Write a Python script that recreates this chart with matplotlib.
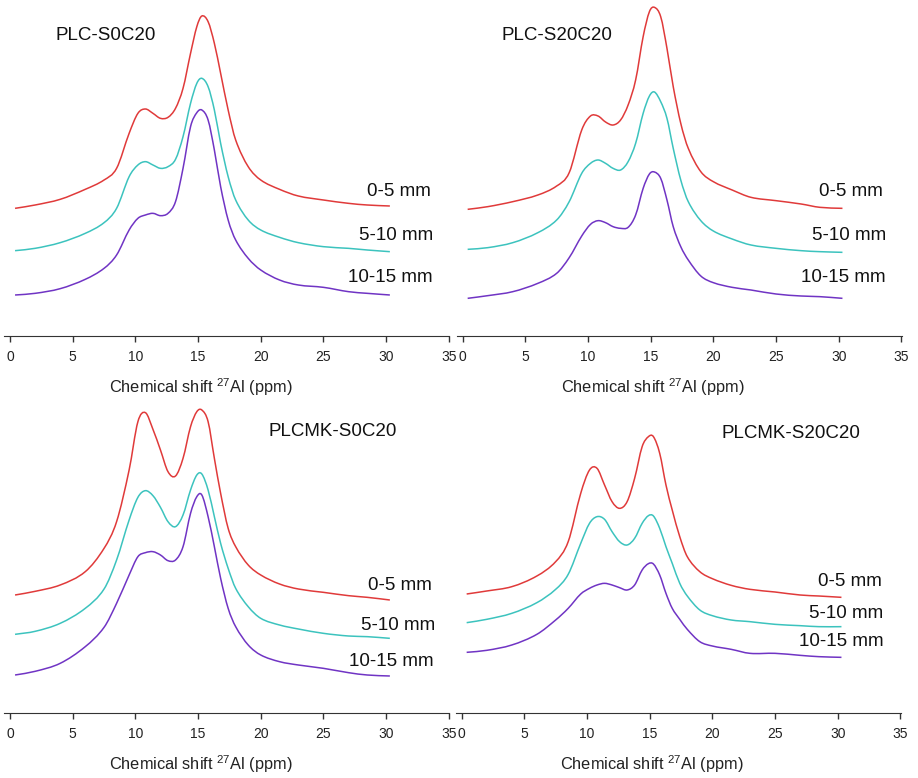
import matplotlib.pyplot as plt
from matplotlib.path import Path
from matplotlib.patches import PathPatch

plt.rcParams['font.family'] = ['Liberation Sans', 'DejaVu Sans']
plt.rcParams['mathtext.fontset'] = 'custom'
plt.rcParams['mathtext.rm'] = 'Liberation Sans'
plt.rcParams['mathtext.default'] = 'regular'

# chemical shift grid (ppm) shared by all spectra
shift = [0.4, 2, 4, 6, 7.5, 8.5, 9.5, 10.2, 10.8, 11.4, 12, 12.6, 13.2, 13.8, 14.4,
         14.9, 15.3, 15.8, 16.3, 16.8, 17.4, 18, 19, 20, 21.5, 23, 25, 27, 28.5, 30.3]

depths = ['0-5 mm', '5-10 mm', '10-15 mm']
colors = ['#e03a3a', '#3cc3be', '#7034c4']

# stacked intensities (a.u.), one list per depth
plc_s0c20 = [
    [383, 393, 410, 440, 468, 503, 608, 668, 681, 668, 653, 656, 683, 743, 848,
     928, 960, 943, 878, 788, 678, 588, 508, 468, 440, 420, 408, 398, 393, 390],
    [256, 263, 280, 308, 340, 383, 478, 513, 523, 513, 503, 508, 530, 598, 698,
     758, 773, 748, 678, 578, 478, 408, 348, 318, 296, 280, 268, 263, 258, 253],
    [123, 128, 142, 170, 203, 243, 318, 353, 363, 368, 361, 368, 403, 503, 628,
     670, 678, 648, 558, 448, 348, 288, 233, 198, 168, 153, 146, 133, 128, 123],
]
plc_s20c20 = [
    [380, 388, 403, 423, 450, 490, 618, 660, 660, 642, 633, 648, 693, 768, 898,
     973, 986, 958, 863, 748, 638, 563, 493, 463, 438, 416, 406, 396, 386, 383],
    [260, 265, 280, 310, 348, 403, 488, 518, 528, 518, 503, 498, 523, 578, 668,
     720, 732, 703, 653, 563, 468, 403, 346, 315, 291, 273, 263, 256, 253, 251],
    [113, 121, 133, 158, 188, 235, 300, 335, 346, 340, 328, 323, 326, 363, 443,
     486, 492, 473, 408, 328, 268, 228, 180, 160, 146, 138, 126, 120, 118, 113],
]
plcmk_s0c20 = [
    [354, 365, 384, 424, 494, 574, 729, 874, 901, 851, 789, 724, 711, 764, 859,
     904, 909, 874, 764, 659, 554, 499, 444, 414, 387, 372, 362, 352, 347, 339],
    [236, 245, 269, 314, 372, 459, 579, 647, 667, 652, 617, 574, 559, 594, 669,
     714, 717, 669, 589, 509, 434, 374, 319, 284, 264, 252, 239, 231, 229, 224],
    [114, 125, 149, 199, 257, 329, 414, 469, 481, 484, 474, 457, 459, 499, 599,
     649, 654, 589, 499, 404, 314, 259, 204, 174, 154, 144, 134, 121, 114, 111],
]
plcmk_s20c20 = [
    [357, 366, 379, 411, 454, 514, 659, 729, 734, 684, 634, 614, 634, 704, 799,
     829, 829, 779, 684, 609, 529, 469, 424, 403, 383, 371, 363, 354, 351, 347],
    [271, 281, 299, 331, 371, 416, 509, 569, 589, 581, 544, 514, 504, 524, 569,
     592, 591, 554, 499, 449, 389, 351, 309, 292, 279, 274, 266, 262, 259, 259],
    [182, 188, 204, 236, 279, 314, 357, 374, 384, 389, 384, 376, 369, 384, 429,
     448, 447, 414, 359, 314, 281, 251, 214, 201, 191, 179, 179, 173, 169, 167],
]


def smooth_path(xs, ys):
    # cubic Hermite bezier through every point, slopes from neighbours
    n = len(xs)
    m = []
    for i in range(n):
        a, b = max(i - 1, 0), min(i + 1, n - 1)
        m.append((ys[b] - ys[a]) / (xs[b] - xs[a]))
    verts = [(xs[0], ys[0])]
    codes = [Path.MOVETO]
    for i in range(n - 1):
        h = xs[i + 1] - xs[i]
        verts += [(xs[i] + h / 3, ys[i] + m[i] * h / 3),
                  (xs[i + 1] - h / 3, ys[i + 1] - m[i + 1] * h / 3),
                  (xs[i + 1], ys[i + 1])]
        codes += [Path.CURVE4] * 3
    return Path(verts, codes)


W, H = 918, 778
fig = plt.figure(figsize=(W / 100, H / 100), dpi=100)

# (title, data, axes left px, spine px, axes height px, title xy, depth label xy list)
panels = [
    ('PLC-S0C20', plc_s0c20, 4.4, 336, 336, (3.6, 903),
     [(33.6, 435), (33.8, 300), (33.75, 177)]),
    ('PLC-S20C20', plc_s20c20, 457.0, 336, 336, (3.1, 903),
     [(33.5, 433), (33.8, 301), (33.75, 175)]),
    ('PLCMK-S0C20', plcmk_s0c20, 4.4, 713, 323, (20.6, 846),
     [(33.65, 381), (33.9, 264), (33.8, 153)]),
    ('PLCMK-S20C20', plcmk_s20c20, 456.0, 713, 323, (20.75, 840),
     [(33.5, 393), (33.6, 300), (33.7, 213)]),
]

for title, data, left, spine_y, h, txy, lxy in panels:
    ax = fig.add_axes([left / W, (H - spine_y) / H, 445 / W, h / H])
    for vals, c in zip(data, colors):
        ax.add_patch(PathPatch(smooth_path(shift, vals), fill=False,
                               edgecolor=c, lw=1.1))
    ax.set_xlim(-0.45, 35.05)
    ax.set_ylim(0, h * 3)
    ax.set_xticks(range(0, 36, 5))
    ax.tick_params(axis='x', direction='out', length=4, width=1, pad=6,
                   labelsize=10, colors='#333333', labelcolor='#222222')
    ax.set_yticks([])
    for s in ['left', 'right', 'top']:
        ax.spines[s].set_visible(False)
    ax.spines['bottom'].set_color('#333333')
    ax.patch.set_alpha(0)

    ax.text(txy[0], txy[1], title, fontsize=13.5, color='#111111',
            ha='left', va='center')
    for (x, y), lab in zip(lxy, depths):
        ax.text(x, y, lab, fontsize=13.5, color='#111111', ha='right', va='center')

    ax.annotate('Chemical shift $^{27}$Al (ppm)', xy=(15.2, 0),
                xycoords=('data', 'axes fraction'), xytext=(0, -37),
                textcoords='offset points', ha='center', va='center',
                fontsize=11.8, color='#222222', annotation_clip=False)

fig.savefig('out.png', dpi=100)
